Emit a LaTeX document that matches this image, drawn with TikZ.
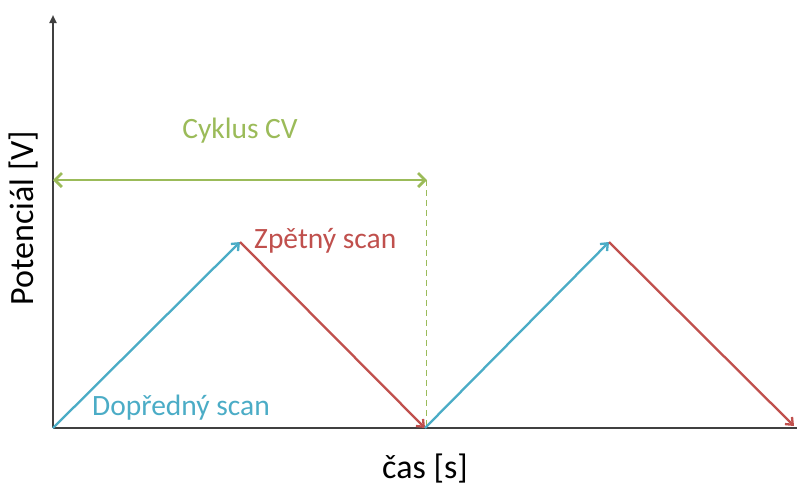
\documentclass[tikz,border=0pt]{standalone}
\usepackage{fontspec}
\setmainfont{Carlito}
\usetikzlibrary{arrows.meta}
\definecolor{cvblue}{RGB}{75,172,198}
\definecolor{cvred}{RGB}{192,80,77}
\definecolor{cvgreen}{RGB}{155,187,89}
\definecolor{axisgray}{RGB}{64,64,64}
\begin{document}
\begin{tikzpicture}[x=1pt,y=-1pt,
  axisline/.style={draw=axisgray,line width=2.2pt},
  scanarrow/.style={line width=2.3pt,-{Straight Barb[length=6pt,width=10pt]}},
  lbl/.style={inner sep=0pt,font=\fontsize{29.5}{34}\selectfont}]
\useasboundingbox (0,0) rectangle (797,491);
\coordinate (O) at (53,428);
\coordinate (Ytop) at (53,15);
\coordinate (Xend) at (797,428);
\coordinate (P1) at (240,242);
\coordinate (M) at (425,428);
\coordinate (P2) at (609,242);
\coordinate (E) at (794,426);
\coordinate (GL) at (53,180);
\coordinate (GR) at (427,180);
\coordinate (DT) at (426,180);
\coordinate (DB) at (426,428);
\draw[axisline] (O) -- (Xend);
\draw[axisline,-{Triangle[length=8pt,width=7pt]}] (O) -- (Ytop);
\draw[cvgreen,line width=1pt,dash pattern=on 6pt off 4pt] (DT) -- (DB);
\draw[cvgreen,line width=2.8pt,{Straight Barb[length=7pt,width=14pt]}-{Straight Barb[length=7pt,width=14pt]}] (GL) -- (GR);
\draw[scanarrow,cvblue] (O) -- (P1);
\draw[scanarrow,cvred] (P1) -- (M);
\draw[scanarrow,cvblue] (M) -- (P2);
\draw[scanarrow,cvred] (P2) -- (E);
\node[lbl,text=cvgreen] (cyk) at (240,131) {Cyklus CV};
\node[lbl,text=cvred,anchor=west] (zp) at (254,241) {Zpětný scan};
\node[lbl,text=cvblue,anchor=west] (dp) at (92,408) {Dopředný scan};
\node[inner sep=0pt,font=\fontsize{34}{40}\selectfont,rotate=90] (yl) at (24,218) {Potenciál [V]};
\node[inner sep=0pt,font=\fontsize{34}{40}\selectfont] (xl) at (425,469) {čas [s]};
\end{tikzpicture}
\end{document}
